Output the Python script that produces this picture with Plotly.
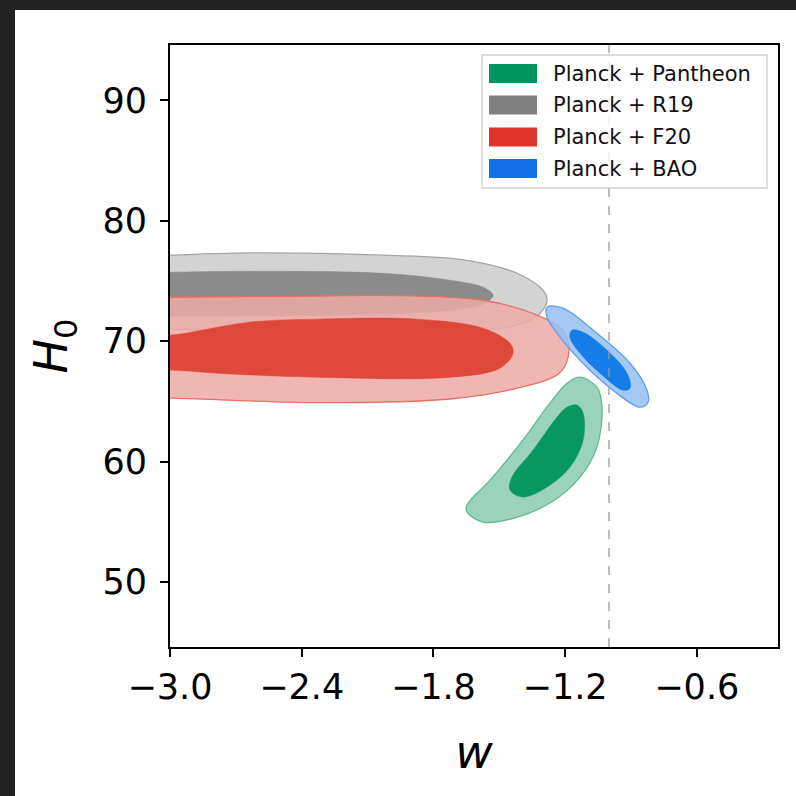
import plotly.graph_objects as go

# ---- data: H0 vs w confidence regions (68% inner, 95% outer) ----
datasets = ["Planck + Pantheon", "Planck + R19", "Planck + F20", "Planck + BAO"]

# Planck + Pantheon
pantheon_95_w = [-1.132, -1.055, -1.032, -1.055, -1.132, -1.269, -1.465, -1.574, -1.647, -1.647, -1.542, -1.392, -1.269, -1.191, -1.132]
pantheon_95_h = [67.01, 66.18, 64.52, 61.20, 58.71, 56.56, 55.15, 54.98, 55.81, 56.39, 58.46, 61.78, 64.85, 66.51, 67.01]
pantheon_68_w = [-1.146, -1.118, -1.118, -1.178, -1.282, -1.392, -1.451, -1.442, -1.346, -1.237, -1.191, -1.146]
pantheon_68_h = [64.69, 64.02, 61.78, 59.54, 57.88, 57.05, 57.63, 58.71, 60.95, 63.69, 64.52, 64.69]

# Planck + R19
r19_95_w = [-3.15, -3.0, -2.636, -2.03, -1.647, -1.419, -1.301, -1.282, -1.314, -1.419, -1.724, -2.18, -2.636, -3.0, -3.15]
r19_95_h = [77.1, 77.15, 77.33, 77.14, 76.72, 75.64, 74.23, 73.4, 72.32, 71.33, 70.66, 70.58, 70.75, 71.0, 71.0]
r19_68_w = [-3.15, -3.0, -2.636, -2.03, -1.724, -1.574, -1.528, -1.565, -1.724, -2.33, -3.0, -3.15]
r19_68_h = [75.73, 75.73, 75.81, 75.64, 75.06, 74.48, 73.82, 73.15, 72.57, 72.16, 72.07, 72.07]

# Planck + F20
f20_95_w = [-3.15, -3.0, -2.33, -2.03, -1.574, -1.346, -1.21, -1.182, -1.223, -1.419, -1.724, -2.33, -3.0, -3.15]
f20_95_h = [73.65, 73.65, 73.75, 73.8, 73.4, 72.3, 70.9, 69.25, 67.4, 66.1, 65.2, 64.9, 65.27, 65.27]
f20_68_w = [-3.15, -3.0, -2.636, -2.33, -1.875, -1.574, -1.451, -1.437, -1.497, -1.724, -2.33, -2.786, -3.0, -3.15]
f20_68_h = [70.5, 70.5, 71.58, 71.83, 71.83, 71.08, 69.83, 69.0, 67.76, 67.0, 67.0, 67.34, 67.6, 67.6]

# Planck + BAO
bao_95_w = [-1.282, -1.21, -1.055, -0.904, -0.827, -0.822, -0.859, -0.982, -1.132, -1.237, -1.282, -1.282]
bao_95_h = [72.82, 72.74, 70.66, 68.17, 65.93, 64.93, 64.52, 65.93, 68.42, 70.66, 71.99, 72.82]
bao_68_w = [-1.169, -1.118, -1.009, -0.918, -0.904, -0.936, -1.041, -1.132, -1.178, -1.169]
bao_68_h = [70.91, 70.75, 69.25, 67.34, 66.10, 65.93, 67.34, 69.00, 70.33, 70.91]

w_lcdm = -1.0

x_ticks = [-3.0, -2.4, -1.8, -1.2, -0.6]
x_tick_text = ["\u22123.0", "\u22122.4", "\u22121.8", "\u22121.2", "\u22120.6"]
y_ticks = [50, 60, 70, 80, 90]
y_tick_text = ["50", "60", "70", "80", "90"]

# ---- styling ----
legend_colors = ["#00955f", "#808080", "#e0322a", "#1470e6"]
outer_fill = ["rgba(137,202,176,0.85)", "rgba(203,203,203,0.85)", "rgba(237,169,163,0.85)", "rgba(149,190,243,0.85)"]
outer_edge = ["rgb(95,185,145)", "rgb(165,165,165)", "rgb(232,112,102)", "rgb(95,160,238)"]
inner_fill = ["rgba(0,148,92,0.95)", "rgba(131,131,131,0.9)", "rgba(221,61,47,0.9)", "rgba(5,116,233,0.9)"]

regions = [
    (pantheon_95_w, pantheon_95_h, pantheon_68_w, pantheon_68_h),
    (r19_95_w, r19_95_h, r19_68_w, r19_68_h),
    (f20_95_w, f20_95_h, f20_68_w, f20_68_h),
    (bao_95_w, bao_95_h, bao_68_w, bao_68_h),
]

FONT = "DejaVu Sans"
fig = go.Figure()

for i, (ow, oh, iw, ih) in enumerate(regions):
    fig.add_trace(go.Scatter(
        x=ow, y=oh, mode="lines", fill="toself", fillcolor=outer_fill[i],
        line=dict(color=outer_edge[i], width=1.3, shape="spline", smoothing=1.0),
        name=datasets[i], showlegend=False, hoverinfo="skip"))
    fig.add_trace(go.Scatter(
        x=iw, y=ih, mode="lines", fill="toself", fillcolor=inner_fill[i],
        line=dict(color=inner_fill[i], width=0.5, shape="spline", smoothing=1.0),
        name=datasets[i], showlegend=False, hoverinfo="skip"))

# layout geometry in pixels
W, H = 796, 796
L, R, T, B = 170, 778, 45, 647
pw, ph = R - L, B - T


def px(xp):
    return (xp - L) / pw


def py(yp):
    return (B - yp) / ph


shapes = []
# page frame: dark strip at top and left, white page
shapes.append(dict(type="rect", xref="paper", yref="paper",
                   x0=px(15), x1=px(W + 5), y0=py(W + 5), y1=py(10),
                   fillcolor="white", line=dict(width=0), layer="below"))
# w = -1 reference line
shapes.append(dict(type="line", xref="x", yref="paper", x0=w_lcdm, x1=w_lcdm, y0=0, y1=1,
                   line=dict(color="#9a9a9a", width=1.3, dash="dash"), layer="above"))

# legend box
shapes.append(dict(type="rect", xref="paper", yref="paper",
                   x0=px(482), x1=px(767), y0=py(188), y1=py(55),
                   fillcolor="rgba(255,255,255,0.8)", line=dict(color="#d0d0d0", width=1.3),
                   layer="above"))
annotations = []
row_y = [73.5, 105.0, 137.0, 168.5]
for i, name in enumerate(datasets):
    shapes.append(dict(type="rect", xref="paper", yref="paper",
                       x0=px(489), x1=px(537), y0=py(row_y[i] + 9.5), y1=py(row_y[i] - 9.5),
                       fillcolor=legend_colors[i], line=dict(width=0), layer="above"))
    annotations.append(dict(xref="paper", yref="paper", x=px(551), y=py(row_y[i]),
                            text=name, showarrow=False, xanchor="left", yanchor="middle",
                            font=dict(family=FONT, size=21, color="#111111")))

fig.update_layout(
    width=W, height=H,
    margin=dict(l=L, r=W - R, t=T, b=H - B, pad=0),
    paper_bgcolor="#222222", plot_bgcolor="white",
    shapes=shapes, annotations=annotations, showlegend=False,
    font=dict(family=FONT, color="black"),
)
fig.update_xaxes(
    range=[-3.0, -0.23], tickvals=x_ticks, ticktext=x_tick_text,
    showline=True, mirror=True, linecolor="black", linewidth=2,
    ticks="outside", ticklen=8, tickwidth=2, tickcolor="black",
    showgrid=False, zeroline=False,
    tickfont=dict(family=FONT, size=35, color="black"),
    title=dict(text="<i>w</i>", font=dict(family=FONT, size=46, color="black"), standoff=30),
)
fig.update_yaxes(
    range=[44.6, 94.6], tickvals=y_ticks, ticktext=y_tick_text,
    showline=True, mirror=True, linecolor="black", linewidth=2,
    ticks="outside", ticklen=8, tickwidth=2, tickcolor="black", ticklabelstandoff=6,
    showgrid=False, zeroline=False,
    tickfont=dict(family=FONT, size=35, color="black"),
    title=dict(text="<i>H</i><sub>0</sub>", font=dict(family=FONT, size=46, color="black"), standoff=20),
)

fig.write_html("out.html")
